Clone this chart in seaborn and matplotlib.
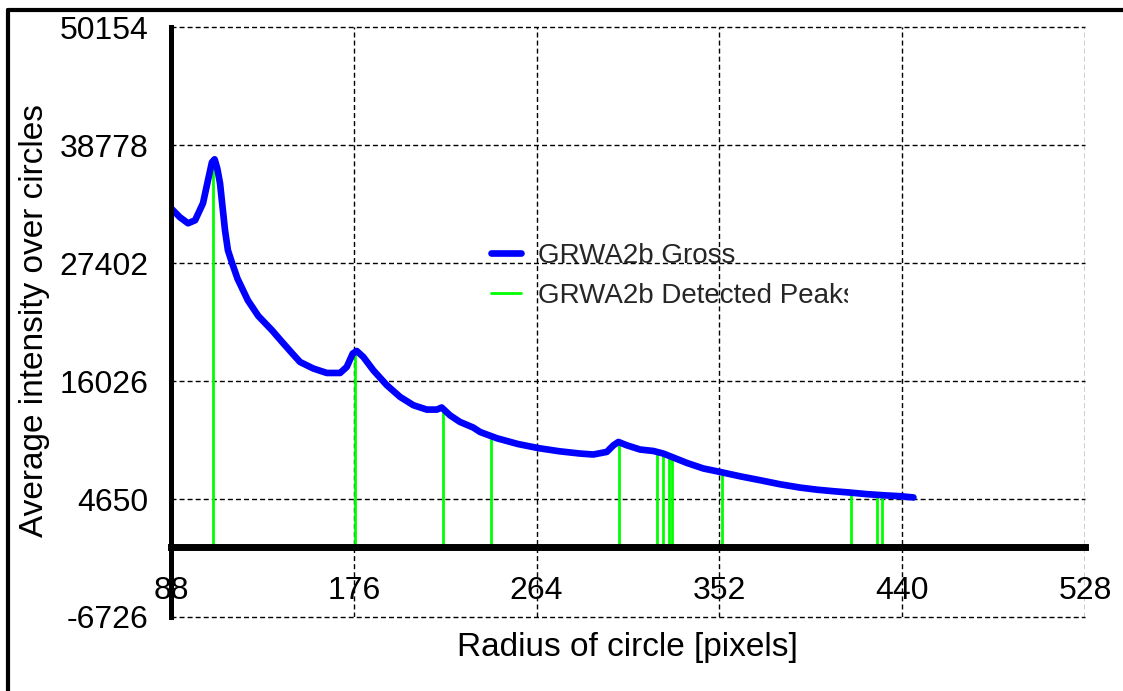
import matplotlib
matplotlib.use("Agg")
import matplotlib.pyplot as plt
import seaborn as sns
import pandas as pd
from matplotlib.lines import Line2D
from matplotlib.transforms import Bbox

# ---- data ----
radius = [88, 92.3, 96.2, 99.6, 103.4, 105.8, 107.7, 109.0, 110.3, 111.6, 114.0, 115.4,
          117.4, 120, 125, 130, 136.6, 141, 146.3, 150.1, 156.5, 163.0, 169.4, 172.6,
          175.5, 177.4, 180.6, 185.4, 191.9, 198.3, 204.7, 211.1, 216.0, 218.3, 222.3,
          227.1, 233.5, 236.8, 245, 255, 265, 275, 285, 291.3, 297.8, 301.0, 303.4,
          307.4, 313.8, 320.2, 325.0, 329.8, 336.3, 344.3, 352.3, 361.9, 371.6, 381.2,
          390.8, 398.9, 406.9, 414.9, 422.9, 431.0, 439.0, 445.4]
intensity = [32680, 31810, 31230, 31520, 33160, 35380, 37110, 37400, 36500, 35090, 30560, 28630,
             27402, 25900, 23800, 22300, 20920, 19900, 18700, 17860, 17230, 16800, 16800, 17380,
             18670, 18920, 18340, 17060, 15620, 14490, 13690, 13270, 13270, 13470, 12720,
             12080, 11540, 11110, 10500, 9950, 9550, 9250, 9030, 8940, 9190, 9830, 10150,
             9830, 9420, 9280, 9030, 8650, 8130, 7590, 7260, 6840, 6460, 6070,
             5750, 5550, 5400, 5270, 5120, 5010, 4920, 4800]

peak_radius = [108.4, 176.6, 218.8, 241.9, 303.8, 321.9, 325.0, 327.9, 329.2, 353.1, 415.4, 427.8, 430.5]
peak_height = [37000, 18800, 13300, 10700, 10050, 9200, 9000, 8750, 8650, 7200, 5200, 5020, 4990]

x_ticks = [88, 176, 264, 352, 440, 528]
y_ticks = [-6726, 4650, 16026, 27402, 38778, 50154]
x_label = "Radius of circle [pixels]"
y_label = "Average intensity over circles"
series_names = ["GRWA2b Gross", "GRWA2b Detected Peaks"]

# ---- styling ----
sns.set_style("white")
plt.rcParams['font.family'] = ['Liberation Sans', 'DejaVu Sans']
plt.rcParams['axes.unicode_minus'] = False

W, H = 1123, 691
fig = plt.figure(figsize=(W / 100, H / 100), dpi=100)
ax = fig.add_axes([171 / W, 1 - 617 / H, 914 / W, 590 / H])

df = pd.DataFrame({"radius": radius, "intensity": intensity})
ax.vlines(peak_radius, 0, peak_height, colors="#00ff00", linewidth=2.0, zorder=2.1)
sns.lineplot(data=df, x="radius", y="intensity", ax=ax, color="#0000ff",
             linewidth=4.8, sort=False, zorder=2.2, legend=False)

ax.set_xlim(x_ticks[0], x_ticks[-1])
ax.set_ylim(y_ticks[0], y_ticks[-1])
ax.set_xticks(x_ticks)
ax.set_xticklabels([str(v) for v in x_ticks])
ax.set_yticks(y_ticks)
ax.set_yticklabels([str(v) for v in y_ticks])

ax.set_axisbelow(True)
ax.grid(True, color="black", linestyle=(0, (3.6, 2.2)), linewidth=1.0)
for gl in ax.get_xgridlines() + ax.get_ygridlines():
    gl.set_clip_on(False)

for s in ["top", "right"]:
    ax.spines[s].set_visible(False)
ax.spines["bottom"].set_position(("data", 0))
ax.spines["bottom"].set_linewidth(5)
ax.spines["left"].set_linewidth(3.6)
ax.spines["bottom"].set_color("black")
ax.spines["left"].set_color("black")

ax.tick_params(axis="x", direction="out", length=8, width=5.8, pad=12.5,
               labelsize=23, colors="black")
ax.tick_params(axis="y", direction="out", length=8, width=3.6, pad=8,
               labelsize=23, colors="black")

ax.set_xlabel(x_label, fontsize=24, color="black")
ax.set_ylabel(y_label, fontsize=24, color="black")
ax.xaxis.set_label_coords(0.499, -0.026)
ax.yaxis.set_label_coords(-0.1324, 0.502)

handles = [Line2D([], [], color="#0000ff", lw=4.8),
           Line2D([], [], color="#00ff00", lw=2.0)]
leg = ax.legend(handles, series_names, loc="upper left", bbox_to_anchor=(0.350, 0.634),
                frameon=False, fontsize=20, handlelength=1.1, handletextpad=0.6,
                borderpad=0, borderaxespad=0, labelspacing=0.5)
clip = Bbox.from_extents(0, 0, 848, H)
for t in leg.get_texts():
    t.set_clip_box(clip)
    t.set_clip_on(True)

# outer frame (top and left edges visible)
fig.add_artist(Line2D([8 / W, 1.0], [1 - 10 / H, 1 - 10 / H], transform=fig.transFigure,
                      color="black", lw=3))
fig.add_artist(Line2D([8 / W, 8 / W], [0, 1 - 10 / H], transform=fig.transFigure,
                      color="black", lw=3))

fig.savefig("out.png", dpi=100)
